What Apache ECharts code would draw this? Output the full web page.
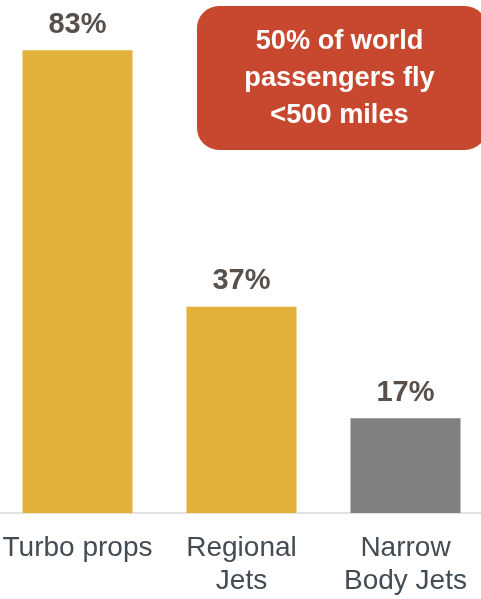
<!DOCTYPE html>
<html>
<head>
<meta charset="utf-8">
<script src="https://cdn.jsdelivr.net/npm/echarts@6/dist/echarts.min.js"></script>
<style>
  html, body { margin: 0; padding: 0; background: #fff; }
  #chart { width: 481px; height: 599px; }
</style>
</head>
<body>
<div id="chart"></div>
<script>
// aircraft types and share of flights under 500 miles
const categories = ['Turbo props', 'Regional\nJets', 'Narrow\nBody Jets'];
const shares = [83, 37, 17];
const calloutLines = ['50% of world', 'passengers fly', '<500 miles'];

const FONT = '"Liberation Sans", Arial, Helvetica, sans-serif';
const GOLD = '#E2B13C';
const GREY = '#808083';

const chart = echarts.init(document.getElementById('chart'));
chart.setOption({
    animation: false,
    grid: {left: -4.5, width: 492, top: 0, bottom: 86, outerBoundsMode: 'none'},
    xAxis: {
        type: 'category',
        data: categories,
        axisLine: {lineStyle: {color: '#d9d9d9', width: 1.5}},
        axisTick: {show: false},
        axisLabel: {
            interval: 0,
            margin: 19,
            color: '#434b53',
            fontFamily: FONT,
            fontSize: 28,
            lineHeight: 33
        }
    },
    yAxis: {type: 'value', min: 0, max: 92, show: false, splitLine: {show: false}},
    series: [{
        type: 'bar',
        data: shares,
        barWidth: 110,
        itemStyle: {
            // last bar (narrow body) is the grey one
            color: p => p.dataIndex === shares.length - 1 ? GREY : GOLD
        },
        label: {
            show: true,
            position: 'top',
            distance: 11,
            formatter: '{c}%',
            color: '#57504b',
            fontFamily: FONT,
            fontWeight: 'bold',
            fontSize: 29
        }
    }],
    graphic: [{
        type: 'group',
        children: [{
            type: 'rect',
            shape: {x: 197, y: 6, width: 290, height: 144, r: 22},
            style: {fill: '#C8472F'}
        }, {
            type: 'text',
            x: 339.5,
            y: 79,
            style: {
                text: calloutLines.join('\n'),
                fill: '#fff',
                font: 'bold 27.2px ' + FONT,
                lineHeight: 37,
                align: 'center',
                verticalAlign: 'middle'
            }
        }]
    }]
});
</script>
</body>
</html>
